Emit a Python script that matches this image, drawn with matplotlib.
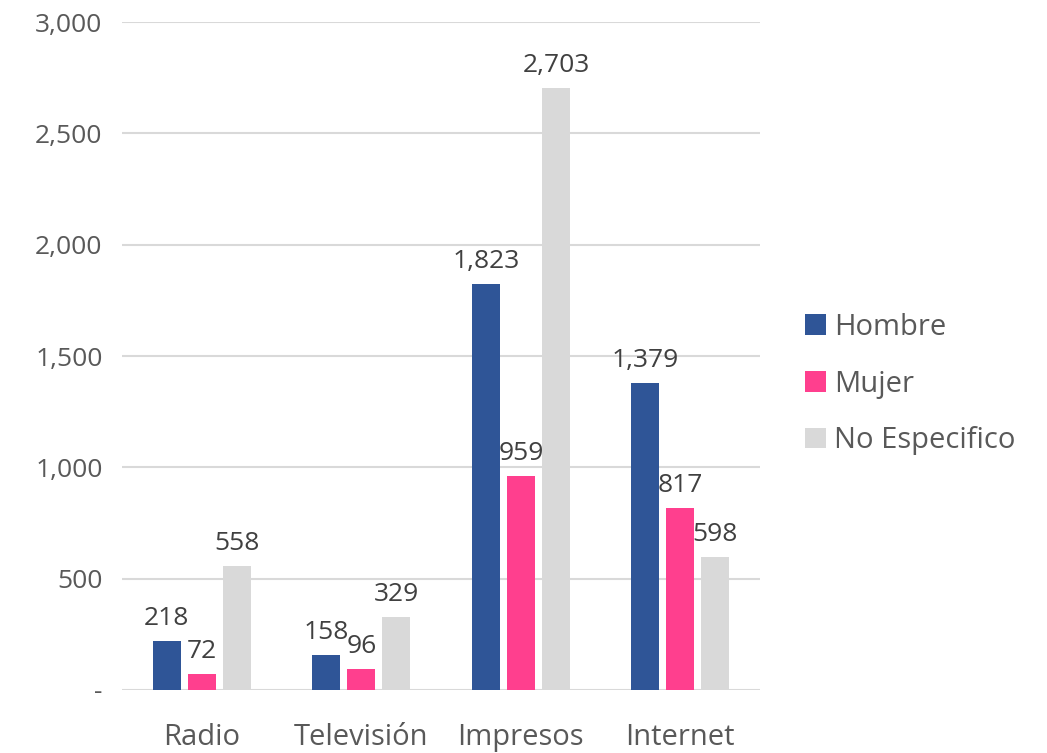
import matplotlib
matplotlib.use("Agg")
import matplotlib.pyplot as plt
import numpy as np
from matplotlib.ticker import FuncFormatter

categories = ["Radio", "Televisión", "Impresos", "Internet"]
hombre = [218, 158, 1823, 1379]
mujer = [72, 96, 959, 817]
no_especifico = [558, 329, 2703, 598]
series_names = ["Hombre", "Mujer", "No Especifico"]
colors = ["#2F5597", "#FF3F8E", "#D9D9D9"]

plt.rcParams["font.family"] = ["Open Sans", "DejaVu Sans"]
text_color = "#595959"

fig = plt.figure(figsize=(10.47, 7.53), dpi=100)
ax = fig.add_axes([0.1165, 0.0837, 0.6095, 0.887])

x = np.arange(len(categories))
width = 0.176
step = 0.22
for i, (vals, name, c) in enumerate(zip([hombre, mujer, no_especifico], series_names, colors)):
    pos = x + (i - 1) * step
    ax.bar(pos, vals, width=width, color=c, label=name, zorder=3)
    for p, v in zip(pos, vals):
        ax.text(p, v + 45, f"{v:,}", ha="center", va="bottom", fontsize=19, color="#404040")

ax.set_xlim(-0.5, 3.5)
ax.set_ylim(0, 3000)
ax.set_yticks(np.arange(0, 3001, 500))
ax.yaxis.set_major_formatter(FuncFormatter(lambda v, _: "-" if v == 0 else f"{int(v):,}"))
ax.set_xticks(x)
ax.set_xticklabels(categories)
ax.grid(axis="y", color="#D9D9D9", linewidth=1.5, zorder=0)
for s in ax.spines.values():
    s.set_visible(False)
ax.tick_params(axis="both", length=0, colors=text_color)
ax.tick_params(axis="y", labelsize=19, pad=14)
ax.tick_params(axis="x", labelsize=21, pad=24)

leg = fig.legend(loc="center left", bbox_to_anchor=(0.744, 0.49), frameon=False,
                 fontsize=21, handlelength=0.7, handleheight=0.7, labelspacing=0.95,
                 handletextpad=0.3)
for t in leg.get_texts():
    t.set_color(text_color)

fig.savefig("out.png", dpi=100)
